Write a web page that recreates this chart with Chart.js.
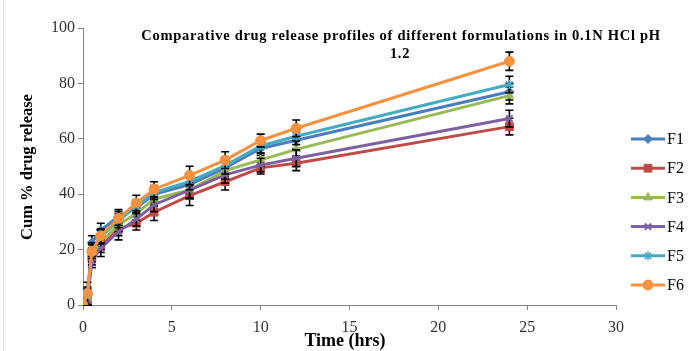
<!DOCTYPE html>
<html>
<head>
<meta charset="utf-8">
<script src="https://cdn.jsdelivr.net/npm/chart.js@4.4.1/dist/chart.umd.min.js"></script>
<style>
  html, body { margin: 0; padding: 0; background: #fff; }
  #wrap { position: relative; width: 699px; height: 351px; }
  #edge { position: absolute; left: 3px; top: 0; width: 1px; height: 351px; background: #e2e2e2; }
</style>
</head>
<body>
<div id="wrap">
  <canvas id="chart" width="699" height="351"></canvas>
  <div id="edge"></div>
</div>
<script>
// sampling times (hrs)
const times = [0, 0.25, 0.5, 1, 2, 3, 4, 6, 8, 10, 12, 24];

// cumulative % drug release per formulation
const f1 = [0, 3.5, 22.5, 27, 32, 35, 40, 43.5, 49.5, 56.5, 59.5, 77];
const f2 = [0, 2, 17, 21.5, 27.5, 29.5, 33.5, 39.5, 44.5, 49.5, 51.2, 64.4];
const f3 = [0, 2.5, 18, 22.5, 29, 33, 38.2, 41.5, 48.5, 52.4, 56.2, 75.6];
const f4 = [0, 2, 16, 20.5, 26.5, 31, 36.2, 41.5, 47, 50.5, 53, 67.3];
const f5 = [0, 3, 20, 24.5, 30.5, 35.5, 40.6, 44.6, 50.3, 57.4, 60.9, 79.6];
const f6 = [0, 4.2, 19.3, 25, 31.3, 36.8, 41.8, 46.8, 52.3, 59.4, 63.8, 88];

// standard deviations (error bars)
const f1Err = [0, 3, 2.5, 2.5, 2.5, 2.5, 2.5, 3, 3, 2.5, 3, 3];
const f2Err = [0, 3, 2.5, 2.5, 2.5, 2.4, 3, 3.6, 3, 2.2, 2.7, 3];
const f3Err = [0, 3, 2.5, 2.5, 2.5, 2.5, 2.5, 3, 3, 2.5, 3, 3];
const f4Err = [0, 3, 2.5, 3, 3, 2.5, 2.5, 3, 3, 2.5, 3, 3];
const f5Err = [0, 3, 2.5, 2.5, 2.5, 2.5, 2.5, 3, 3, 2.5, 3, 3];
const f6Err = [0, 4, 2.5, 2.5, 2.5, 2.8, 2.7, 3.3, 3, 2.3, 3, 3.3];

const seriesNames = ['F1', 'F2', 'F3', 'F4', 'F5', 'F6'];
const seriesValues = [f1, f2, f3, f4, f5, f6];
const seriesErrors = [f1Err, f2Err, f3Err, f4Err, f5Err, f6Err];

const xTickStep = 5;
const yTickStep = 20;

const COLORS = ['#4A7EBB', '#BE4B48', '#98B954', '#7D60A0', '#46AAC5', '#F69240'];
const MARKERS = [
  { pointStyle: 'rectRot', radius: 4.5, borderWidth: 1 },
  { pointStyle: 'rect', radius: 5.5, borderWidth: 1 },
  { pointStyle: 'triangle', radius: 5, borderWidth: 1 },
  { pointStyle: 'crossRot', radius: 4.5, borderWidth: 2 },
  { pointStyle: 'star', radius: 4.5, borderWidth: 1.5 },
  { pointStyle: 'circle', radius: 5, borderWidth: 1 },
];

const SERIF = "'Liberation Serif', 'Times New Roman', serif";
const AXIS_GREY = '#868686';

const datasets = seriesNames.map((name, i) => ({
  label: name,
  data: times.map((t, j) => ({ x: t, y: seriesValues[i][j] })),
  borderColor: COLORS[i],
  backgroundColor: COLORS[i],
  borderWidth: 3,
  tension: 0,
  pointStyle: MARKERS[i].pointStyle,
  pointRadius: MARKERS[i].radius,
  pointBorderWidth: MARKERS[i].borderWidth,
  pointBackgroundColor: COLORS[i],
  pointBorderColor: COLORS[i],
  order: seriesNames.length - i, // F6 drawn last, on top
}));

// black error bars, drawn just before each series so its own line covers the middle
const errorBars = {
  id: 'errorBars',
  beforeDatasetDraw(chart, args) {
    const { ctx, scales: { x, y } } = chart;
    const i = args.index;
    const errs = seriesErrors[i];
    const ds = chart.data.datasets[i];
    ctx.save();
    ctx.strokeStyle = '#000';
    ctx.lineWidth = 1.6;
    ds.data.forEach((p, j) => {
      const e = errs[j];
      if (!e) return;
      const px = x.getPixelForValue(p.x);
      const top = y.getPixelForValue(p.y + e);
      const bot = y.getPixelForValue(Math.max(0, p.y - e));
      ctx.beginPath();
      ctx.moveTo(px, top); ctx.lineTo(px, bot);
      ctx.moveTo(px - 4, top); ctx.lineTo(px + 4, top);
      ctx.moveTo(px - 4, bot); ctx.lineTo(px + 4, bot);
      ctx.stroke();
    });
    ctx.restore();
  },
};

// title, axis titles and the line+marker legend
const decorations = {
  id: 'decorations',
  afterDraw(chart) {
    const { ctx } = chart;
    ctx.save();
    ctx.fillStyle = '#000';
    ctx.textAlign = 'center';
    ctx.textBaseline = 'middle';

    ctx.font = `bold 14.5px ${SERIF}`;
    if ('letterSpacing' in ctx) ctx.letterSpacing = '0.7px';
    ctx.fillText('Comparative drug release profiles of different formulations in 0.1N HCl pH', 401, 36);
    ctx.fillText('1.2', 400, 54);
    if ('letterSpacing' in ctx) ctx.letterSpacing = '0px';

    ctx.font = `bold 18px ${SERIF}`;
    ctx.fillText('Time (hrs)', 345, 341);

    ctx.save();
    ctx.translate(28, 167);
    ctx.rotate(-Math.PI / 2);
    ctx.font = `bold 16.5px ${SERIF}`;
    ctx.fillText('Cum % drug release', 0, 0);
    ctx.restore();

    const drawPoint = Chart.helpers && Chart.helpers.drawPoint;
    ctx.textAlign = 'left';
    ctx.font = `16px ${SERIF}`;
    seriesNames.forEach((name, i) => {
      const ly = 139 + i * 29.2;
      ctx.strokeStyle = COLORS[i];
      ctx.lineWidth = 3;
      ctx.beginPath();
      ctx.moveTo(631, ly);
      ctx.lineTo(665, ly);
      ctx.stroke();
      if (drawPoint) {
        ctx.fillStyle = COLORS[i];
        ctx.strokeStyle = COLORS[i];
        ctx.lineWidth = MARKERS[i].borderWidth;
        drawPoint(ctx, { pointStyle: MARKERS[i].pointStyle, radius: MARKERS[i].radius, borderWidth: MARKERS[i].borderWidth, rotation: 0 }, 648, ly);
      }
      ctx.fillStyle = '#000';
      ctx.fillText(name, 667, ly + 1);
    });
    ctx.restore();
  },
};

const tickFont = { family: SERIF, size: 16 };

new Chart(document.getElementById('chart'), {
  type: 'line',
  data: { datasets },
  options: {
    responsive: false,
    animation: false,
    layout: { padding: { top: 28, right: 83, left: 0, bottom: 0 } },
    plugins: {
      legend: { display: false },
      tooltip: { enabled: false },
      title: { display: false },
    },
    scales: {
      x: {
        type: 'linear',
        min: 0,
        max: 30,
        ticks: { stepSize: xTickStep, font: tickFont, color: '#333', padding: 8, maxRotation: 0 },
        grid: { drawOnChartArea: false, drawTicks: true, tickLength: 5, color: AXIS_GREY },
        border: { color: AXIS_GREY, width: 1 },
        afterFit(s) { s.height = 46; },
      },
      y: {
        min: 0,
        max: 100,
        ticks: { stepSize: yTickStep, font: tickFont, color: '#333', padding: 3 },
        grid: { drawOnChartArea: false, drawTicks: true, tickLength: 5, color: AXIS_GREY },
        border: { color: AXIS_GREY, width: 1 },
        afterFit(s) { s.width = 83; },
      },
    },
  },
  plugins: [errorBars, decorations],
});
</script>
</body>
</html>
